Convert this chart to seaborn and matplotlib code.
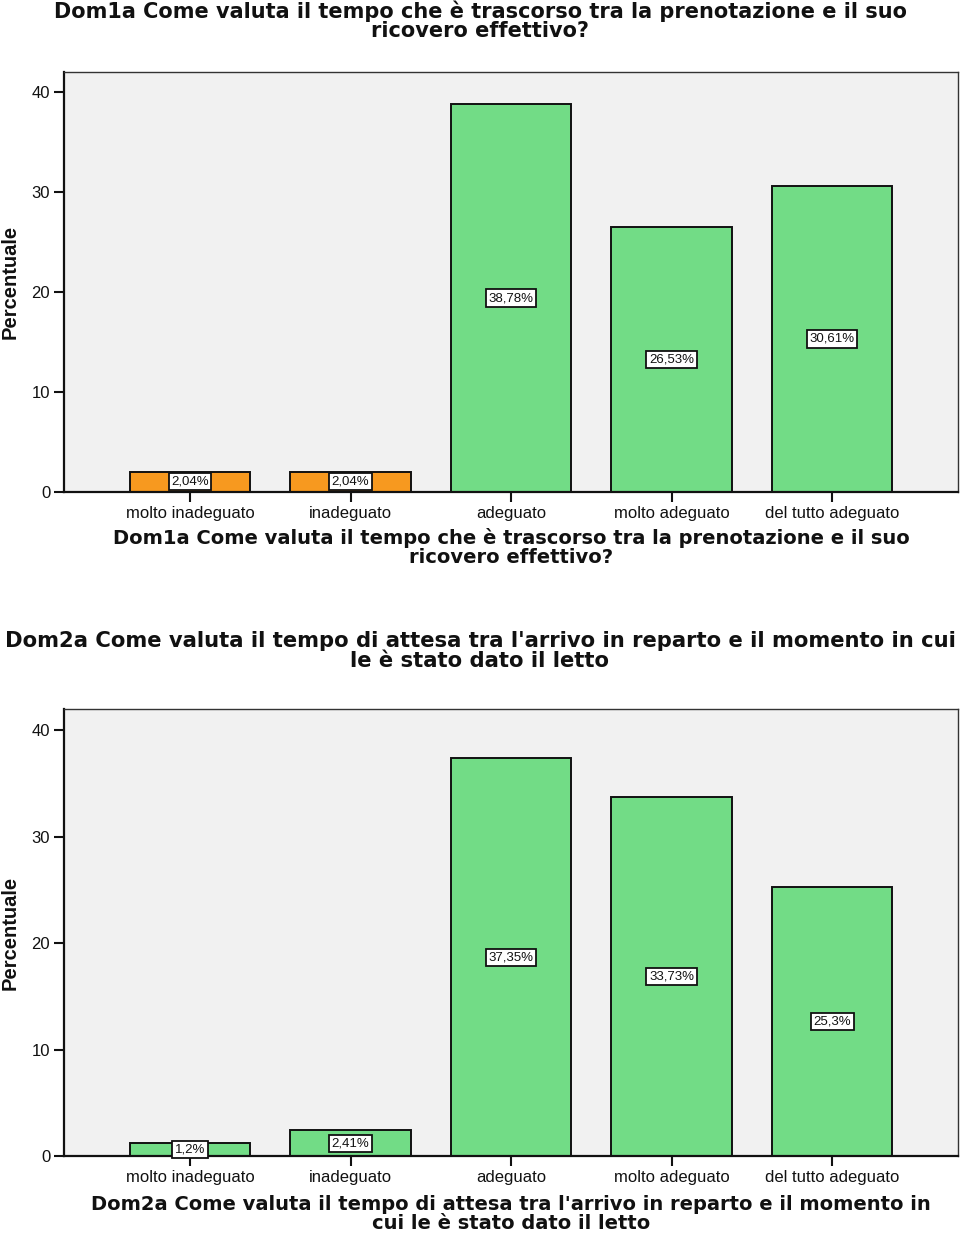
import matplotlib
matplotlib.use("Agg")
import matplotlib.pyplot as plt
import seaborn as sns
import pandas as pd

categories = ["molto inadeguato", "inadeguato", "adeguato", "molto adeguato", "del tutto adeguato"]
values_dom1a = [2.04, 2.04, 38.78, 26.53, 30.61]
labels_dom1a = ["2,04%", "2,04%", "38,78%", "26,53%", "30,61%"]
values_dom2a = [1.2, 2.41, 37.35, 33.73, 25.3]
labels_dom2a = ["1,2%", "2,41%", "37,35%", "33,73%", "25,3%"]
colors_dom1a = ["#F7991F", "#F7991F", "#72DC86", "#72DC86", "#72DC86"]
colors_dom2a = ["#72DC86", "#72DC86", "#72DC86", "#72DC86", "#72DC86"]
yticks = [0, 10, 20, 30, 40]

title1 = "Dom1a Come valuta il tempo che è trascorso tra la prenotazione e il suo\nricovero effettivo?"
xlabel1 = "Dom1a Come valuta il tempo che è trascorso tra la prenotazione e il suo\nricovero effettivo?"
title2 = "Dom2a Come valuta il tempo di attesa tra l'arrivo in reparto e il momento in cui\nle è stato dato il letto"
xlabel2 = "Dom2a Come valuta il tempo di attesa tra l'arrivo in reparto e il momento in\ncui le è stato dato il letto"

sns.set_theme(style="white")
plt.rcParams['font.family'] = ['DejaVu Sans']

fig = plt.figure(figsize=(9.6, 12.33), dpi=100)

def draw(ax, values, labels, colors, title, xlabel, title_y, title_fs, title_ls, xpad):
    df = pd.DataFrame({"cat": categories, "val": values})
    sns.barplot(data=df, x="cat", y="val", hue="cat", palette=colors, legend=False,
                width=0.75, edgecolor="#111111", linewidth=1.4, saturation=1, ax=ax)
    ax.set_facecolor("#F1F1F1")
    ax.set_xlim(-0.785, 4.785)
    ax.set_ylim(0, 42)
    ax.set_yticks(yticks)
    ax.set_yticklabels([str(t) for t in yticks], family="Liberation Sans", fontsize=12)
    ax.set_xticks(range(len(categories)))
    ax.set_xticklabels(categories, family="Liberation Sans", fontsize=12)
    ax.tick_params(axis="both", which="both", direction="out", length=7, width=1.5,
                   color="#111111", labelcolor="#111111", pad=3, left=True, bottom=True)
    for side in ["left", "bottom"]:
        ax.spines[side].set_color("#111111")
        ax.spines[side].set_linewidth(1.6)
    for side in ["top", "right"]:
        ax.spines[side].set_color("#333333")
        ax.spines[side].set_linewidth(1.0)
    for i, (v, lab) in enumerate(zip(values, labels)):
        ax.text(i, v / 2, lab, ha="center", va="center", fontsize=9.5,
                family="Liberation Sans", color="#111111",
                bbox=dict(boxstyle="square,pad=0.2", facecolor="white",
                          edgecolor="#111111", linewidth=1.3))
    ax.set_xlabel(xlabel, fontsize=14, fontweight="bold", family="DejaVu Sans",
                  linespacing=1.0, labelpad=xpad, color="#111111")
    ax.set_ylabel("Percentuale", fontsize=14.5, fontweight="bold",
                  family=["Liberation Sans Narrow", "Liberation Sans"], color="#111111")
    ax.yaxis.set_label_coords(-0.05, 0.5)
    fig.text(0.5, title_y, title, ha="center", va="top", fontsize=title_fs,
             fontweight="bold", family="DejaVu Sans", linespacing=title_ls,
             color="#111111")

ax1 = fig.add_axes([0.0667, 0.601, 0.9313, 0.3406])
draw(ax1, values_dom1a, labels_dom1a, colors_dom1a, title1, xlabel1, 1 - 0 / 1233, 15, 0.98, 5)
ax2 = fig.add_axes([0.0667, 0.0624, 0.9313, 0.3626])
draw(ax2, values_dom2a, labels_dom2a, colors_dom2a, title2, xlabel2, 1 - 631 / 1233, 15.2, 1.0, 7)

fig.savefig("out.png", dpi=100)
